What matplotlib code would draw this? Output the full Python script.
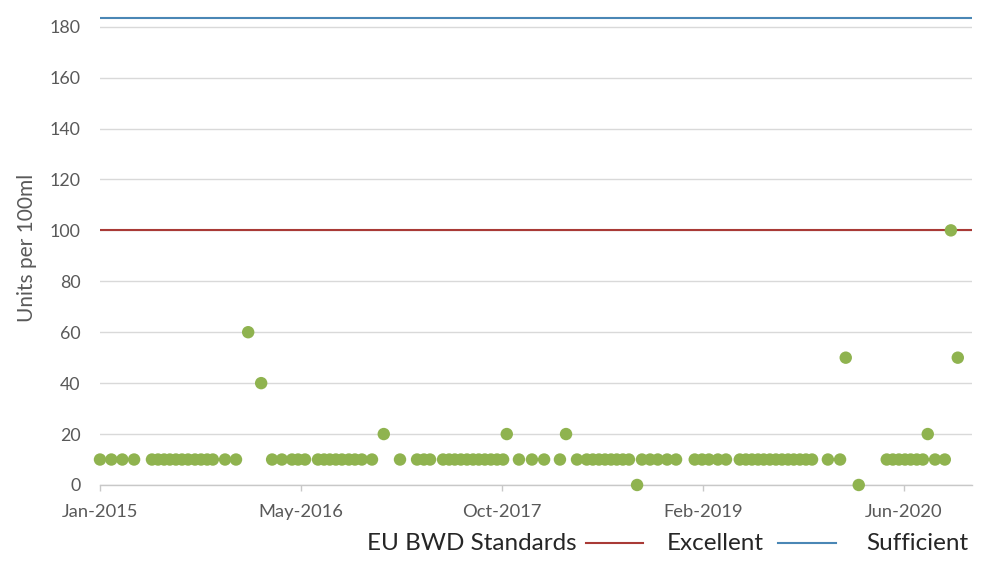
import matplotlib
matplotlib.use("Agg")
import matplotlib.pyplot as plt
import matplotlib.dates as mdates
from matplotlib.lines import Line2D
import pandas as pd

plt.rcParams['font.family'] = ['Lato', 'DejaVu Sans']

# ---- data ----
sample_dates = [
    "2015-01-20", "2015-02-17", "2015-03-16", "2015-04-14",
    "2015-05-28", "2015-06-12", "2015-06-27", "2015-07-11", "2015-07-26", "2015-08-10",
    "2015-08-25", "2015-09-11", "2015-09-26", "2015-10-11", "2015-10-25",
    "2015-11-24", "2015-12-21", "2016-01-20", "2016-02-21",
    "2016-03-19", "2016-04-12", "2016-05-07", "2016-05-22", "2016-06-08",
    "2016-07-10", "2016-07-25", "2016-08-08", "2016-08-23", "2016-09-07", "2016-09-24",
    "2016-10-09", "2016-10-26", "2016-11-20", "2016-12-19",
    "2017-01-28", "2017-03-11", "2017-03-28", "2017-04-12",
    "2017-05-14", "2017-05-29", "2017-06-12", "2017-06-27", "2017-07-12", "2017-07-27",
    "2017-08-10", "2017-08-25", "2017-09-09", "2017-09-24", "2017-10-09", "2017-10-18",
    "2017-11-17", "2017-12-19", "2018-01-18", "2018-02-26", "2018-03-13", "2018-04-09",
    "2018-05-03", "2018-05-18", "2018-06-02", "2018-06-17", "2018-07-02", "2018-07-16",
    "2018-07-31", "2018-08-15", "2018-09-04",
    "2018-09-16", "2018-10-06", "2018-10-25", "2018-11-17", "2018-12-09",
    "2019-01-24", "2019-02-11", "2019-02-28", "2019-03-22", "2019-04-11",
    "2019-05-15", "2019-05-30", "2019-06-14", "2019-06-29", "2019-07-13", "2019-07-28",
    "2019-08-12", "2019-08-27", "2019-09-11", "2019-09-25", "2019-10-10", "2019-10-25",
    "2019-11-09", "2019-12-18", "2020-01-17", "2020-01-31", "2020-03-03",
    "2020-05-11", "2020-05-26", "2020-06-10", "2020-06-25", "2020-07-09", "2020-07-24",
    "2020-08-08", "2020-08-20", "2020-09-07", "2020-10-01", "2020-10-16", "2020-11-02",
]
sample_values = [
    10, 10, 10, 10,
    10, 10, 10, 10, 10, 10,
    10, 10, 10, 10, 10,
    10, 10, 60, 40,
    10, 10, 10, 10, 10,
    10, 10, 10, 10, 10, 10,
    10, 10, 10, 20,
    10, 10, 10, 10,
    10, 10, 10, 10, 10, 10,
    10, 10, 10, 10, 10, 20,
    10, 10, 10, 10, 20, 10,
    10, 10, 10, 10, 10, 10,
    10, 10, 0,
    10, 10, 10, 10, 10,
    10, 10, 10, 10, 10,
    10, 10, 10, 10, 10, 10,
    10, 10, 10, 10, 10, 10,
    10, 10, 10, 50, 0,
    10, 10, 10, 10, 10, 10,
    10, 20, 10, 10, 100, 50,
]
excellent_limit = 100
sufficient_limit = 183.5
tick_dates = ["2015-01-20", "2016-05-29", "2017-10-06", "2019-02-13", "2020-06-22"]
y_ticks = [0, 20, 40, 60, 80, 100, 120, 140, 160, 180]
x_start, x_end = "2015-01-20", "2020-12-07"

dates = pd.to_datetime(sample_dates)

fig = plt.figure(figsize=(10, 5.61), dpi=100)
ax = fig.add_axes([0.100, 0.1355, 0.872, 0.8442])

ax.axhline(excellent_limit, color="#a93a36", lw=1.5, zorder=2)
ax.axhline(sufficient_limit, color="#4a87b5", lw=1.5, zorder=2)
ax.scatter(dates, sample_values, s=80, color="#8fb34f", edgecolors="none",
           zorder=3, clip_on=False)

ax.set_xlim(pd.Timestamp(x_start), pd.Timestamp(x_end))
ax.set_ylim(0, 186)
ax.set_yticks(y_ticks)
ax.set_xticks(pd.to_datetime(tick_dates))
ax.xaxis.set_major_formatter(mdates.DateFormatter('%b-%Y'))

ax.grid(axis='y', color="#d9d9d9", lw=1.0, zorder=0)
ax.set_axisbelow(True)
for s in ['top', 'right', 'left']:
    ax.spines[s].set_visible(False)
ax.spines['bottom'].set_color("#c8c8c8")
ax.spines['bottom'].set_linewidth(1.0)

ax.tick_params(axis='y', length=0, pad=14, labelsize=12.8, labelcolor="#595959")
ax.tick_params(axis='x', length=4, width=1, color="#c8c8c8", pad=10,
               labelsize=13.2, labelcolor="#595959")

ax.set_ylabel("Units per 100ml", fontsize=15, color="#595959", labelpad=9)

# legend row
fig.text(0.577, 0.032, "EU BWD Standards", ha='right', va='center',
         fontsize=17.5, color="#262626")
fig.add_artist(Line2D([0.586, 0.643], [0.032, 0.032], color="#a93a36", lw=1.5,
                      transform=fig.transFigure))
fig.text(0.667, 0.032, "Excellent", ha='left', va='center',
         fontsize=17.5, color="#262626")
fig.add_artist(Line2D([0.778, 0.836], [0.032, 0.032], color="#4a87b5", lw=1.5,
                      transform=fig.transFigure))
fig.text(0.866, 0.032, "Sufficient", ha='left', va='center',
         fontsize=17.5, color="#262626")

fig.savefig("out.png", dpi=100)
